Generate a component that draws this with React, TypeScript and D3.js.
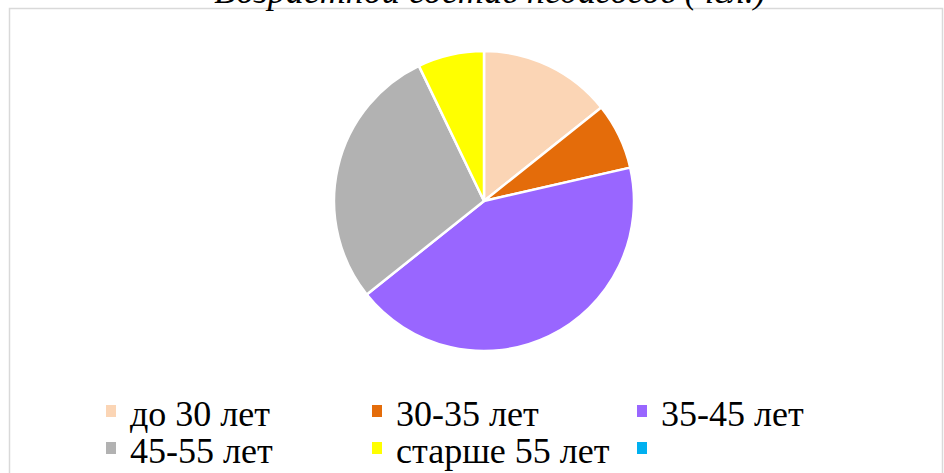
import React from 'react';
import * as d3 from 'd3';

// age groups and head counts
const categories = ['до 30 лет', '30-35 лет', '35-45 лет', '45-55 лет', 'старше 55 лет', ''];
const values = [2, 1, 6, 4, 1, 0];
const colors = ['#FBD5B5', '#E46C0A', '#9966FF', '#B2B2B2', '#FFFF00', '#00B0F0'];
const title = 'Возрастной состав педагогов (чел.)';

const W = 944;
const H = 473;
const SERIF = 'Liberation Serif';

const App = () => {
  const cx = 484, cy = 201, r = 150;
  const data = categories.map((c, i) => ({ c, v: values[i], color: colors[i] }));

  const pie = d3.pie().value(d => d.v).sort(null);
  const arc = d3.arc().innerRadius(0).outerRadius(r);
  const slices = pie(data).filter(d => d.data.v > 0);

  // legend: 3 columns, 2 rows
  const colX = [106, 372, 637];
  const rowY = [426, 463];

  return (
    <svg width={W} height={H} style={{ position: 'absolute', left: 0, top: 0 }}>
      <rect width={W} height={H} fill="#fff" />
      <rect x={9.5} y={8.5} width={933} height={480} fill="none" stroke="#d9d9d9" strokeWidth={1.5} />
      <text
        x={490}
        y={3}
        textAnchor="middle"
        style={{ fontFamily: SERIF, fontStyle: 'italic', fontSize: '36px' }}
      >
        {title}
      </text>
      <g transform={`translate(${cx},${cy})`}>
        {slices.map((d, i) => (
          <path key={i} d={arc(d)} fill={d.data.color} stroke="#fff" strokeWidth={2.5} strokeLinejoin="round" />
        ))}
      </g>
      <g>
        {data.map((d, i) => {
          const x = colX[i % 3];
          const y = rowY[Math.floor(i / 3)];
          return (
            <g key={i}>
              <rect x={x} y={y - 21} width={10} height={12} fill={d.color} />
              <text x={x + 24} y={y} style={{ fontFamily: SERIF, fontSize: '36px' }} fill="#000">
                {d.c}
              </text>
            </g>
          );
        })}
      </g>
    </svg>
  );
};

export default App;
